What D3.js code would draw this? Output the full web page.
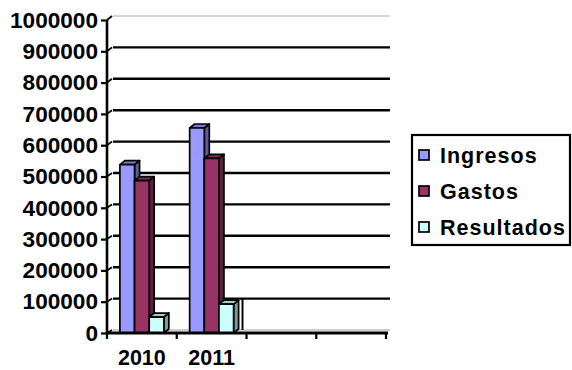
<!DOCTYPE html>
<html>
<head>
<meta charset="utf-8">
<script src="https://cdn.jsdelivr.net/npm/d3@7"></script>
<style>
  html, body { margin: 0; padding: 0; background: #fff; }
  svg { display: block; }
  text { font-family: "Liberation Sans", Arial, sans-serif; font-weight: bold; fill: #000; }
</style>
</head>
<body>
<svg id="chart" width="572" height="370"></svg>
<script>
// Year slots on the category axis (the last two are empty)
const categories = ["2010", "2011", "", ""];
const seriesNames = ["Ingresos", "Gastos", "Resultados"];
const ingresos = [538000, 655000];
const gastos = [487000, 558000];
const resultados = [51000, 92000];
const yTicks = [0, 100000, 200000, 300000, 400000, 500000, 600000, 700000, 800000, 900000, 1000000];

const seriesValues = [ingresos, gastos, resultados];
// front, top and side face colours of each 3D column
const faceColors = [
  { front: "#9999FF", top: "#7A7ACC", side: "#5C5C99" },
  { front: "#993366", top: "#7A2952", side: "#5C1F3D" },
  { front: "#CCFFFF", top: "#A3CCCC", side: "#7A9999" }
];

const svg = d3.select("#chart");
const depthX = 5, depthY = -4;

// front plane value scale and back wall value scale
const y = d3.scaleLinear().domain([0, 1000000]).range([333, 20]);
const yBack = d3.scaleLinear().domain([0, 1000000]).range([330, 16]);

const slot = d3.scaleBand().domain(d3.range(categories.length)).range([107, 386]).padding(0);
const groupInset = slot.bandwidth() * 0.185;
const inner = d3.scaleBand().domain(seriesNames).range([0, slot.bandwidth() - 2 * groupInset]).padding(0);

const wallLeft = 113, wallRight = 390;

// back wall grid lines
const grid = svg.append("g");
grid.selectAll("line.grid")
  .data(yTicks.filter(v => v > 0))
  .join("line")
  .attr("x1", wallLeft).attr("x2", wallRight)
  .attr("y1", d => yBack(d)).attr("y2", d => yBack(d))
  .attr("stroke", d => d === 1000000 ? "#c8c8c8" : "#000")
  .attr("stroke-width", d => d === 1000000 ? 1.5 : 2.4);
// floor edge of the wall
grid.append("line")
  .attr("x1", wallLeft).attr("x2", wallRight)
  .attr("y1", yBack(0)).attr("y2", yBack(0))
  .attr("stroke", "#a0a0a0").attr("stroke-width", 1.2);
// wall seam behind the third slot
grid.append("line")
  .attr("x1", slot(2) - depthX + 1).attr("x2", slot(2) - depthX + 1)
  .attr("y1", yBack(100000)).attr("y2", yBack(0))
  .attr("stroke", "#000").attr("stroke-width", 2);

// 3D columns
const bars = svg.append("g").attr("stroke", "#000").attr("stroke-width", 1.7).attr("stroke-linejoin", "round");
categories.forEach((cat, ci) => {
  seriesNames.forEach((name, si) => {
    const v = seriesValues[si][ci];
    if (v === undefined) return;
    const x0 = slot(ci) + groupInset + inner(name);
    const w = inner.bandwidth();
    const yt = y(v), yb = y(0);
    const c = faceColors[si];
    bars.append("polygon")
      .attr("points", [[x0 + w, yt], [x0 + w + depthX, yt + depthY], [x0 + w + depthX, yb + depthY], [x0 + w, yb]].join(" "))
      .attr("fill", c.side);
    bars.append("polygon")
      .attr("points", [[x0, yt], [x0 + depthX, yt + depthY], [x0 + w + depthX, yt + depthY], [x0 + w, yt]].join(" "))
      .attr("fill", c.top);
    bars.append("rect")
      .attr("x", x0).attr("y", yt).attr("width", w).attr("height", yb - yt)
      .attr("fill", c.front);
  });
});

// value axis
const yAxis = d3.axisLeft(y).tickValues(yTicks).tickSize(6).tickPadding(3).tickFormat(d3.format("d"));
const ya = svg.append("g").attr("transform", "translate(107,0)").call(yAxis);
ya.select(".domain").attr("stroke", "#000").attr("stroke-width", 2.6).attr("d", `M0,${y(1000000)}V${y(0)}`);
ya.selectAll(".tick line").attr("stroke", "#000").attr("stroke-width", 2.2);
ya.selectAll(".tick text").attr("font-size", 22.6).attr("font-family", "Liberation Sans, Arial, sans-serif").attr("font-weight", "bold").attr("fill", "#000");
// connectors from the axis ticks to the back wall
svg.append("g").selectAll("line")
  .data(yTicks)
  .join("line")
  .attr("x1", 107).attr("y1", d => y(d))
  .attr("x2", wallLeft - 1).attr("y2", d => yBack(d))
  .attr("stroke", "#000").attr("stroke-width", 1.8);

// category axis
const xa = svg.append("g");
xa.append("line")
  .attr("x1", slot.range()[0]).attr("x2", slot.range()[1] + 2)
  .attr("y1", y(0)).attr("y2", y(0))
  .attr("stroke", "#000").attr("stroke-width", 3);
xa.selectAll("line.tick")
  .data(d3.range(categories.length + 1))
  .join("line")
  .attr("x1", i => slot.range()[0] + i * slot.step())
  .attr("x2", i => slot.range()[0] + i * slot.step())
  .attr("y1", y(0)).attr("y2", y(0) + 6)
  .attr("stroke", "#000").attr("stroke-width", 2.2);
xa.selectAll("text")
  .data(categories)
  .join("text")
  .attr("x", (d, i) => slot(i) + slot.bandwidth() / 2)
  .attr("y", 365)
  .attr("text-anchor", "middle")
  .attr("font-size", 21.5)
  .text(d => d);

// legend
const legend = svg.append("g");
legend.append("rect")
  .attr("x", 412).attr("y", 135).attr("width", 158).attr("height", 110)
  .attr("fill", "#fff").attr("stroke", "#000").attr("stroke-width", 2.2);
const items = legend.selectAll("g.item")
  .data(seriesNames)
  .join("g")
  .attr("transform", (d, i) => `translate(419,${155 + i * 36})`);
items.append("rect")
  .attr("x", 0).attr("y", -5).attr("width", 10).attr("height", 10)
  .attr("fill", (d, i) => faceColors[i].front)
  .attr("stroke", "#000").attr("stroke-width", 1.7);
items.append("text")
  .attr("x", 21).attr("y", 0).attr("dy", "0.36em")
  .attr("font-size", 21.5)
  .attr("letter-spacing", 1)
  .text(d => d);
</script>
</body>
</html>
